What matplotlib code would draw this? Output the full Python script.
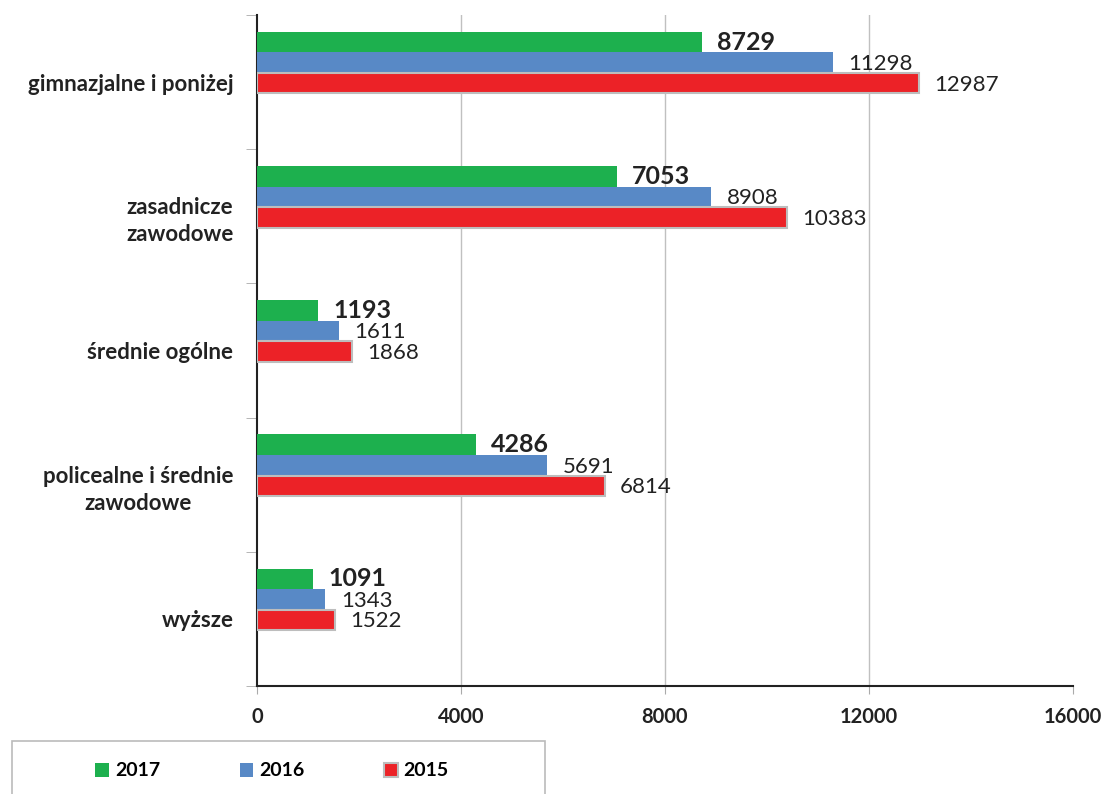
import numpy as np
import matplotlib.pyplot as plt
from matplotlib.patches import Rectangle, Patch

# data
categories = ['gimnazjalne i poniżej', 'zasadnicze\nzawodowe', 'średnie ogólne',
              'policealne i średnie\nzawodowe', 'wyższe']
v2017 = [8729, 7053, 1193, 4286, 1091]
v2016 = [11298, 8908, 1611, 5691, 1343]
v2015 = [12987, 10383, 1868, 6814, 1522]
x_ticks = [0, 4000, 8000, 12000, 16000]

c17, c16, c15 = '#1db04e', '#5889c6', '#ec2227'

plt.rcParams['font.family'] = ['Lato', 'DejaVu Sans']

fig = plt.figure(figsize=(11.03, 7.94), dpi=100)
ax = fig.add_axes([257/1103, 1-686/794, 816/1103, 671/794])

y = np.arange(len(categories))
h = 0.153
off = -0.145
ax.barh(y + off - h, v2017, height=h, color=c17, zorder=3)
ax.barh(y + off, v2016, height=h, color=c16, zorder=3)
ax.barh(y + off + h, v2015, height=h, color=c15, edgecolor='#bdbdbd', linewidth=1.5, zorder=3)

dx = 300
for i in range(len(categories)):
    ax.text(v2017[i] + dx, y[i] + off - h, str(v2017[i]), va='center', ha='left',
            fontsize=18, fontweight='bold', color='#222222')
    ax.text(v2016[i] + dx, y[i] + off + 0.01, str(v2016[i]), va='center', ha='left',
            fontsize=16, color='#222222')
    ax.text(v2015[i] + dx, y[i] + off + h + 0.01, str(v2015[i]), va='center', ha='left',
            fontsize=16, color='#222222')

ax.set_xlim(0, 16000)
ax.set_ylim(4.5, -0.5)
ax.set_xticks(x_ticks)
ax.set_xticklabels([str(t) for t in x_ticks], fontsize=14.5, fontweight='bold', color='#222222')
ax.tick_params(axis='x', length=6, color='#aaaaaa', pad=9)
ax.set_yticks(y)
ax.set_yticklabels(categories, fontsize=16, fontweight='bold', color='#222222',
                   multialignment='center', linespacing=1.35)
ax.tick_params(axis='y', which='major', length=0, pad=17)
ax.set_yticks(np.arange(-0.5, 5, 1), minor=True)
ax.tick_params(axis='y', which='minor', length=8, color='#aaaaaa')

# vertical gridlines (none at the right end)
for t in x_ticks[1:-1]:
    ax.axvline(t, color='#c0c0c0', linewidth=1, zorder=0)
for s in ['top', 'right']:
    ax.spines[s].set_visible(False)
ax.spines['left'].set_color('#222222')
ax.spines['bottom'].set_color('#222222')
ax.spines['left'].set_linewidth(1.5)
ax.spines['bottom'].set_linewidth(1.5)

# legend box
fig.patches.append(Rectangle((12/1103, -0.05), 533/1103, 0.05 + (794-741)/794,
                             transform=fig.transFigure, fill=False,
                             edgecolor='#bbbbbb', linewidth=1.2))
handles = [Patch(facecolor=c17, label='2017'),
           Patch(facecolor=c16, label='2016'),
           Patch(facecolor=c15, edgecolor='#bdbdbd', linewidth=1.5, label='2015')]
fig.legend(handles=handles, loc='center', bbox_to_anchor=(272/1103, 1-771/794),
           ncol=3, frameon=False, prop={'weight': 'bold', 'size': 14},
           handlelength=0.7, handleheight=0.7, handletextpad=0.3, columnspacing=4.1)

fig.savefig('out.png', dpi=100)
